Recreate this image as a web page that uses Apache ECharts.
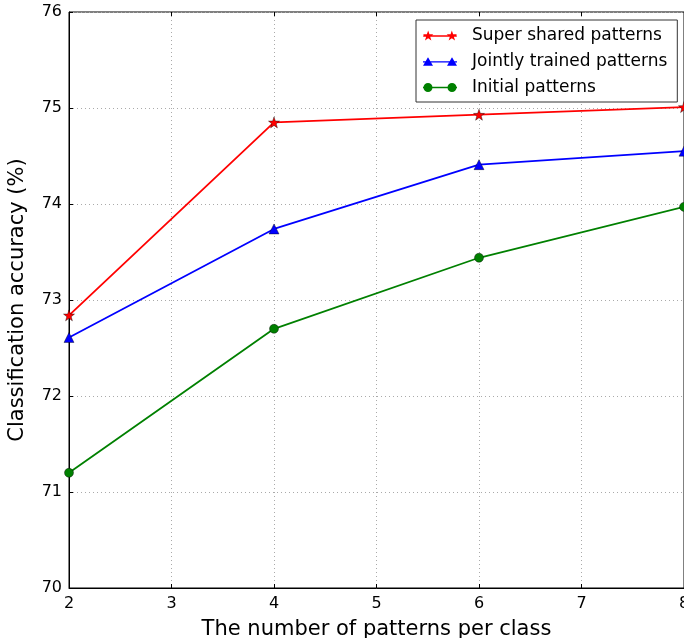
<!DOCTYPE html>
<html><head><meta charset="utf-8">
<script src="https://cdn.jsdelivr.net/npm/echarts@6/dist/echarts.min.js"></script>
<style>html,body{margin:0;padding:0;background:#fff}#c{width:684px;height:638px}</style>
</head><body><div id="c"></div>
<script>
const xValues = [2, 4, 6, 8];
const superShared = [72.84, 74.85, 74.93, 75.01];
const jointlyTrained = [72.61, 73.74, 74.41, 74.55];
const initialPatterns = [71.20, 72.70, 73.44, 73.97];
const seriesNames = ['Super shared patterns', 'Jointly trained patterns', 'Initial patterns'];
const xTicks = [2, 3, 4, 5, 6, 7, 8];
const yTicks = [70, 71, 72, 73, 74, 75, 76];
const xAxisTitle = 'The number of patterns per class';
const yAxisTitle = 'Classification accuracy (%)';

const FONT = 'DejaVu Sans';
const starPath = 'path://M5 1.5 L6.29 5.22 L10.23 5.3 L7.09 7.68 L8.23 11.45 L5 9.2 L1.77 11.45 L2.91 7.68 L-0.23 5.3 L3.71 5.22 Z';
const lineRect = 'M0 6.3 L34 6.3 L34 7.7 L0 7.7 Z ';
function starAt(cx){
  const pts=[[0,-5.5],[1.29,-1.78],[5.23,-1.7],[2.09,0.68],[3.23,4.45],[0,2.2],[-3.23,4.45],[-2.09,0.68],[-5.23,-1.7],[-1.29,-1.78]];
  return 'M'+pts.map(p=>(cx+p[0]).toFixed(2)+' '+(7+p[1]).toFixed(2)).join(' L')+' Z ';
}
function triAt(cx){ return 'M'+cx+' 2.3 L'+(cx+5)+' 11 L'+(cx-5)+' 11 Z '; }
function circAt(cx){ return 'M'+(cx+4.5)+' 7 A4.5 4.5 0 1 1 '+(cx-4.5)+' 7 A4.5 4.5 0 1 1 '+(cx+4.5)+' 7 Z '; }
const legendIcons = [
  'path://'+lineRect+starAt(5)+starAt(29),
  'path://'+lineRect+triAt(5)+triAt(29),
  'path://'+lineRect+circAt(5)+circAt(29)
];
const colors = ['#ff0000', '#0000ff', '#008000'];
const symbols = [starPath, 'triangle', 'circle'];
const symbolSizes = [11, 10, 9];
const datasets = [superShared, jointlyTrained, initialPatterns];

const chart = echarts.init(document.getElementById('c'), null, {renderer:'canvas'});
const splitLine = {show:true, lineStyle:{color:'#aaaaaa', type:[1,3], width:1}};
chart.setOption({
  animation:false,
  textStyle:{fontFamily:FONT},
  grid:{left:69, top:12, right:0, bottom:50, outerBoundsMode:'none', containLabel:false,
        show:true, borderColor:'#000', borderWidth:1, backgroundColor:'transparent'},
  legend:{
    orient:'vertical', left:416, top:20,
    data: seriesNames.map((n,i)=>({name:n, icon:legendIcons[i], itemStyle:{color:colors[i], borderWidth:0}})),
    itemWidth:34, itemHeight:14, itemGap:9,
    padding:[7,10,6,7],
    borderColor:'#333', borderWidth:1, backgroundColor:'#fff',
    textStyle:{fontFamily:FONT, fontSize:17, color:'#000', padding:[0,0,0,10]}
  },
  xAxis:[{
    type:'value', min:2, max:8, interval:1,
    name:xAxisTitle, nameLocation:'middle', nameGap:31,
    nameTextStyle:{fontFamily:FONT, fontSize:21, color:'#000'},
    axisLine:{show:true, lineStyle:{color:'#000'}},
    axisTick:{show:true, inside:true, length:4, lineStyle:{color:'#000'}},
    axisLabel:{fontFamily:FONT, fontSize:16, color:'#000', margin:8, formatter:v=>xTicks.includes(v)?String(v):''},
    splitLine: splitLine
  },{
    type:'value', min:2, max:8, interval:1, position:'top',
    axisLine:{show:false}, axisTick:{show:true, inside:true, length:4, lineStyle:{color:'#000'}},
    axisLabel:{show:false}, splitLine:{show:false}
  }],
  yAxis:{
    type:'value', min:70, max:76, interval:1,
    name:yAxisTitle, nameLocation:'middle', nameGap:41,
    nameTextStyle:{fontFamily:FONT, fontSize:21, color:'#000'},
    axisLine:{show:true, lineStyle:{color:'#000'}},
    axisTick:{show:true, inside:true, length:4, lineStyle:{color:'#000'}},
    axisLabel:{fontFamily:FONT, fontSize:16, color:'#000', margin:7, formatter:v=>yTicks.includes(v)?String(v):''},
    splitLine: splitLine
  },
  series: seriesNames.map((n,i)=>({
    name:n, type:'line', xAxisIndex:0,
    data: xValues.map((x,j)=>[x, datasets[i][j]]),
    symbol: symbols[i], symbolSize: symbolSizes[i], showSymbol:true,
    lineStyle:{color:colors[i], width:1.8},
    itemStyle:{color:colors[i], borderColor:'#000', borderWidth:0.4},
    clip:false
  }))
});
</script></body></html>
